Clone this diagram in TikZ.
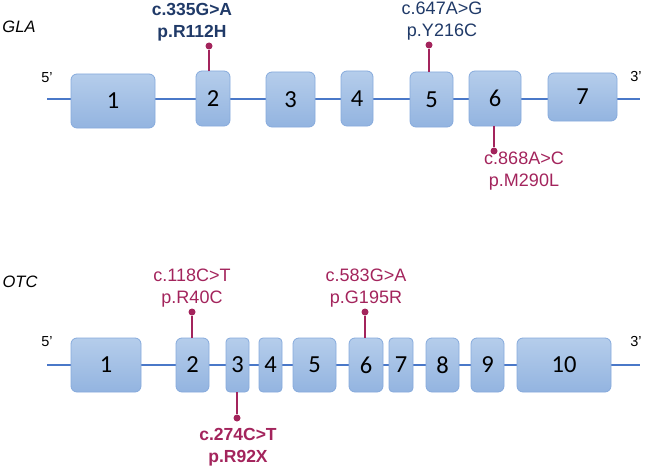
\documentclass[tikz,border=0pt]{standalone}
\usepackage{fontspec}
\setmainfont{Liberation Sans}
\newfontfamily\exonfont{Carlito}
\definecolor{exonedge}{HTML}{86AADC}
\definecolor{exontop}{HTML}{B5CDEB}
\definecolor{exonbot}{HTML}{93B4E0}
\definecolor{strand}{HTML}{4A78C8}
\definecolor{mut}{HTML}{A3245C}
\definecolor{navy}{HTML}{203A68}
\begin{document}
\begin{tikzpicture}[x=1pt,y=-1pt,
  exon/.style={draw=exonedge, line width=0.8pt, top color=exontop, bottom color=exonbot,
    rounded corners=6pt, inner sep=0pt, font=\exonfont\fontsize{24.5}{24.5}\selectfont},
  backbone/.style={draw=strand, line width=1.1pt},
  stem/.style={draw=mut, line width=1.1pt},
  mutdot/.style={circle, fill=mut, inner sep=0pt, minimum size=7pt},
  mutlab/.style={align=center, font=\fontsize{18}{22}\selectfont, inner sep=0pt},
  mutlabb/.style={align=center, font=\fontsize{17.5}{22}\selectfont\bfseries, inner sep=0pt},
  gene/.style={font=\fontsize{16.5}{16.5}\selectfont\itshape, inner sep=0pt},
  endlab/.style={font=\fontsize{14.5}{14.5}\selectfont, inner sep=0pt}]
\useasboundingbox (0,0) rectangle (647,468);
% ---------------- GLA ----------------
\node[gene] (glaname) at (19,27) {GLA};
\node[endlab] (gla5p) at (47,78) {5’};
\node[endlab] (gla3p) at (636,77) {3’};
\coordinate (gs) at (47,99);
\coordinate (ge) at (640,99);
\draw[backbone] (gs) -- (ge);
\node[exon, minimum width=84pt, minimum height=54pt] (g1) at (113,101) {1};
\node[exon, minimum width=34pt, minimum height=55pt] (g2) at (213,98.5) {2};
\node[exon, minimum width=49pt, minimum height=55pt] (g3) at (290.5,99.5) {3};
\node[exon, minimum width=32pt, minimum height=55pt] (g4) at (357,98.5) {4};
\node[exon, minimum width=43pt, minimum height=55pt] (g5) at (431.5,99.5) {5};
\node[exon, minimum width=52pt, minimum height=55pt] (g6) at (495,98.5) {6};
\node[exon, minimum width=69pt, minimum height=48pt] (g7) at (582.5,97) {7};
\node[mutdot] (gd2) at (209,46) {};
\node[mutdot] (gd5) at (429,45) {};
\node[mutdot] (gd6) at (494,151) {};
\draw[stem] (gd2) -- (gd2 |- g2.north);
\draw[stem] (gd5) -- (gd5 |- g5.north);
\draw[stem] (gd6) -- (gd6 |- g6.south);
\node[mutlabb, text=navy] (gl2) at (192,22.5) {c.335G>A\\p.R112H};
\node[mutlab, text=navy] (gl5) at (442,21) {c.647A>G\\p.Y216C};
\node[mutlab, text=mut] (gl6) at (524,171.5) {c.868A>C\\p.M290L};
% ---------------- OTC ----------------
\node[gene] (otcname) at (20,282) {OTC};
\node[endlab] (otc5p) at (47,342) {5’};
\node[endlab] (otc3p) at (636,342) {3’};
\coordinate (os) at (47,365);
\coordinate (oe) at (640,365);
\draw[backbone] (os) -- (oe);
\node[exon, minimum width=70pt, minimum height=54pt] (o1) at (106,365) {1};
\node[exon, minimum width=33pt, minimum height=54pt] (o2) at (192.5,365) {2};
\node[exon, minimum width=23pt, minimum height=54pt, rounded corners=4pt] (o3) at (237.5,365) {3};
\node[exon, minimum width=23pt, minimum height=54pt, rounded corners=4pt] (o4) at (270.5,365) {4};
\node[exon, minimum width=43pt, minimum height=54pt] (o5) at (314.5,365) {5};
\node[exon, minimum width=34pt, minimum height=54pt] (o6) at (366,365) {6};
\node[exon, minimum width=24pt, minimum height=54pt, rounded corners=4pt] (o7) at (401,365) {7};
\node[exon, minimum width=33pt, minimum height=54pt] (o8) at (442.5,365) {8};
\node[exon, minimum width=33pt, minimum height=54pt] (o9) at (487.5,365) {9};
\node[exon, minimum width=94pt, minimum height=54pt] (o10) at (564,365) {10};
\node[mutdot] (od2) at (192,312) {};
\node[mutdot] (od3) at (237,418) {};
\node[mutdot] (od6) at (365,312) {};
\draw[stem] (od2) -- (od2 |- o2.north);
\draw[stem] (od3) -- (od3 |- o3.south);
\draw[stem] (od6) -- (od6 |- o6.north);
\node[mutlab, text=mut] (ol2) at (192,288) {c.118C>T\\p.R40C};
\node[mutlabb, text=mut] (ol3) at (238,447) {c.274C>T\\p.R92X};
\node[mutlab, text=mut] (ol6) at (366,288.5) {c.583G>A\\p.G195R};
\end{tikzpicture}
\end{document}
